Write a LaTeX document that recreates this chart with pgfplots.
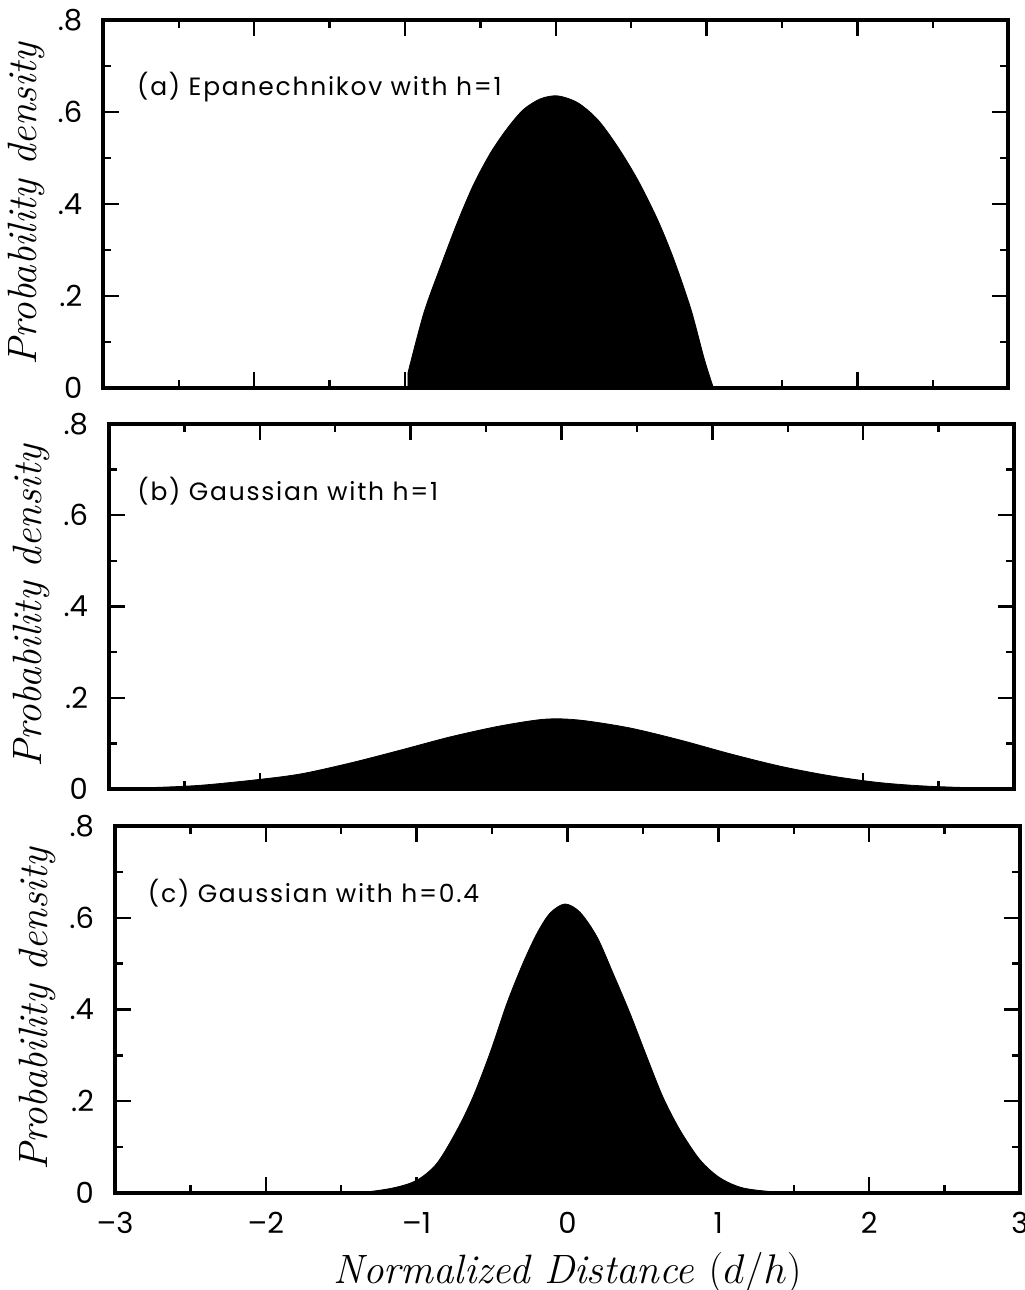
\documentclass[border=0pt]{standalone}
\usepackage{fontspec}
\usepackage{pgfplots}
\pgfplotsset{compat=1.18}
\newfontfamily\pop{Poppins}
\newfontfamily\popw{Poppins}[LetterSpace=7]

\pgfplotstableread{
x y
-0.980 0.033
-0.875 0.163
-0.763 0.265
-0.650 0.362
-0.544 0.443
-0.431 0.512
-0.318 0.566
-0.212 0.606
-0.099 0.629
0.013 0.635
0.146 0.620
0.279 0.583
0.411 0.524
0.544 0.452
0.676 0.365
0.782 0.280
0.895 0.172
0.981 0.067
1.028 0.017
1.045 0
}\epan

\pgfplotstableread{
x y
-3.00 0.001
-2.73 0.003
-2.40 0.008
-2.03 0.020
-1.73 0.033
-1.40 0.057
-1.07 0.085
-0.74 0.114
-0.41 0.138
-0.11 0.153
0.12 0.151
0.45 0.134
0.79 0.107
1.12 0.077
1.45 0.050
1.78 0.029
2.11 0.014
2.44 0.006
2.91 0.001
3.00 0.001
}\gausa

\pgfplotstableread{
x y
-3.00 0
-1.60 0.000
-1.376 0.001
-1.157 0.011
-0.998 0.028
-0.865 0.065
-0.733 0.137
-0.627 0.209
-0.514 0.305
-0.401 0.414
-0.295 0.501
-0.202 0.566
-0.116 0.610
-0.017 0.630
0.083 0.612
0.196 0.558
0.302 0.479
0.414 0.392
0.527 0.296
0.633 0.209
0.746 0.137
0.879 0.072
1.011 0.033
1.164 0.011
1.39 0.002
1.60 0.000
3.00 0
}\gausb

\tikzset{note/.style={font=\popw\fontsize{12.5}{14}\selectfont, anchor=west, inner sep=0pt}}

\pgfplotsset{
  panel/.style={
    scale only axis, width=452.5pt,
    xmin=-3, xmax=3, ymin=0, ymax=0.8,
    xtick={-3,-2,-1,0,1,2,3}, minor x tick num=1,
    ytick={0,0.2,0.4,0.6,0.8}, yticklabels={0,.2,.4,.6,.8},
    minor y tick num=1,
    tick align=inside,
    major tick length=8pt, minor tick length=4pt,
    axis line style={line width=2pt},
    every tick/.style={black, line width=1.2pt},
    tick label style={font=\pop\fontsize{14.5}{16}\selectfont},
    yticklabel style={xshift=-7pt},
    xticklabel style={yshift=-6pt},
    axis on top,
    every axis y label/.style={at={(axis description cs:-0.0854,0.5)}, rotate=90, anchor=center},
    ylabel={\fontsize{20.5}{22}\selectfont\itshape Probability density},
  },
}

\begin{document}
\begin{tikzpicture}
\useasboundingbox (0,0) rectangle (512pt,-645pt);

\begin{axis}[panel, height=184pt, at={(51.65pt,-194pt)}, anchor=south west, xticklabels={}]
\addplot[fill=black, draw=black, smooth, tension=0.5] table {\epan} \closedcycle;
\node[note] at (axis description cs:0.037,0.818) {(a) Epanechnikov with h=1};
\end{axis}

\begin{axis}[panel, height=182.5pt, at={(54.5pt,-394.5pt)}, anchor=south west, xticklabels={}]
\addplot[fill=black, draw=black, smooth, tension=0.5] table {\gausa} \closedcycle;
\node[note] at (axis description cs:0.031,0.816) {(b) Gaussian with h=1};
\end{axis}

\begin{axis}[panel, height=183.5pt, at={(57.5pt,-596.5pt)}, anchor=south west,
  xticklabels={–3,–2,–1,0,1,2,3},
  every axis x label/.style={at={(axis description cs:0.5,-0.218)}, anchor=center},
  xlabel={\fontsize{20.5}{22}\selectfont\itshape Normalized Distance $(d/h)$}]
\addplot[fill=black, draw=black, smooth, tension=0.5] table {\gausb} \closedcycle;
\node[note] at (axis description cs:0.036,0.817) {(c) Gaussian with h=0.4};
\end{axis}
\end{tikzpicture}
\end{document}
